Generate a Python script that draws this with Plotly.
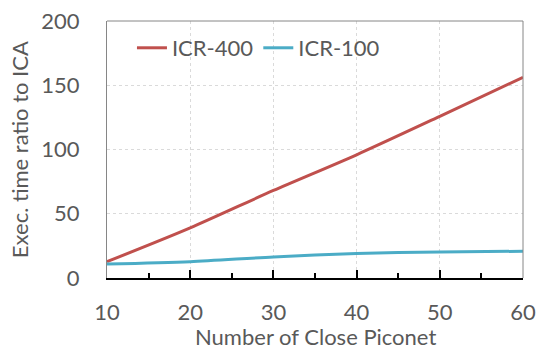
import plotly.graph_objects as go

x_vals = [10, 20, 30, 40, 50, 60]
icr400 = [12.7, 39.0, 68.1, 95.9, 125.8, 156.2]
icr100 = [10.9, 12.7, 16.4, 19.0, 20.3, 20.8]
x_ticks = [10, 20, 30, 40, 50, 60]
y_ticks = [0, 50, 100, 150, 200]

FONT = "Lato"
TXT = "#595959"
FS = 22

fig = go.Figure()
fig.add_trace(go.Scatter(x=x_vals, y=icr400, mode="lines", name="ICR-400",
                         line=dict(color="#C0504D", width=3, shape="spline", smoothing=0.8)))
fig.add_trace(go.Scatter(x=x_vals, y=icr100, mode="lines", name="ICR-100",
                         line=dict(color="#4BACC6", width=3, shape="spline", smoothing=0.8)))

fig.update_layout(
    width=536, height=351,
    margin=dict(l=107, r=13, t=21, b=73),
    paper_bgcolor="white", plot_bgcolor="white",
    font=dict(family=FONT, size=FS, color=TXT),
    showlegend=True,
    legend=dict(orientation="h", x=0.06, y=0.895, xanchor="left", yanchor="middle",
                bgcolor="rgba(0,0,0,0)", font=dict(size=FS, color=TXT),
                itemwidth=30, tracegroupgap=0),
    xaxis=dict(range=[10, 60], tickvals=x_ticks, showgrid=True, gridcolor="#DADADA",
               griddash="dot", gridwidth=1, showline=True, linecolor="black", linewidth=1.5,
               ticks="inside", ticklen=8, tickcolor="black", tickwidth=1.5,
               minor=dict(dtick=5, ticks="inside", ticklen=5, tickcolor="black", showgrid=False),
               ticklabelstandoff=14, zeroline=False, automargin=False),
    yaxis=dict(range=[0, 200], tickvals=y_ticks, showgrid=True, gridcolor="#DADADA",
               griddash="dot", gridwidth=1, showline=True, linecolor="#868686", linewidth=1,
               ticks="", ticklabelstandoff=22, zeroline=False, automargin=False),
    annotations=[
        dict(text="Number of Close Piconet", xref="paper", yref="paper", x=0.5, y=-0.228,
             xanchor="center", yanchor="middle", showarrow=False,
             font=dict(size=FS, color=TXT, family=FONT)),
        dict(text="Exec. time ratio to ICA", xref="paper", yref="paper", x=-0.21, y=0.5,
             xanchor="center", yanchor="middle", showarrow=False, textangle=-90,
             font=dict(size=FS, color=TXT, family=FONT)),
    ],
)
fig.add_shape(type="line", xref="paper", yref="paper", x0=0, x1=1, y0=1, y1=1,
              line=dict(color="#868686", width=1))
fig.add_shape(type="line", xref="paper", yref="paper", x0=1, x1=1, y0=0, y1=1,
              line=dict(color="#868686", width=1))

fig.write_html("out.html")
